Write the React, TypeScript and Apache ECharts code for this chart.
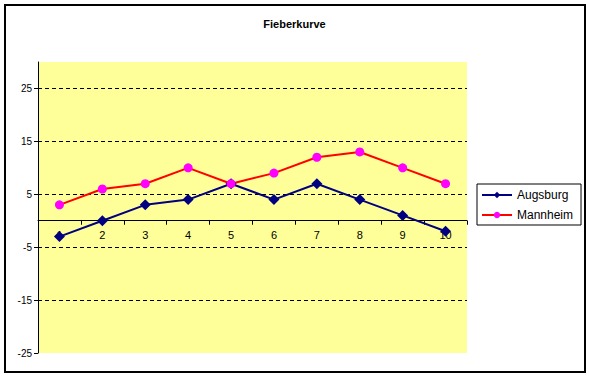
import React, { useEffect, useRef } from "react";
import * as echarts from "echarts";

const categories = ["1", "2", "3", "4", "5", "6", "7", "8", "9", "10"];
const augsburg = [-3, 0, 3, 4, 7, 4, 7, 4, 1, -2];
const mannheim = [3, 6, 7, 10, 7, 9, 12, 13, 10, 7];
const yMin = -25;
const yMax = 30;
const yInterval = 10;

export default function App() {
  const ref = useRef<HTMLDivElement>(null);
  useEffect(() => {
    if (!ref.current) return;
    const chart = echarts.init(ref.current, null, { renderer: "svg" });
    const font = "'Liberation Sans', Arial, sans-serif";
    const gridTop = 62;
    const gridBottom = 25;
    const gridHeight = 378 - gridTop - gridBottom;
    const zeroOffset = -(gridHeight * (0 - yMin)) / (yMax - yMin);
    chart.setOption({
      animation: false,
      backgroundColor: "#ffffff",
      textStyle: { fontFamily: font },
      title: {
        text: "Fieberkurve",
        left: "center",
        top: 13,
        textStyle: { fontSize: 11, fontWeight: "bold", color: "#000", fontFamily: font },
      },
      graphic: [
        {
          type: "rect",
          shape: { x: 5, y: 5, width: 580, height: 367 },
          style: { fill: "none", stroke: "#000", lineWidth: 2 },
          silent: true,
          z: 100,
        },
      ],
      legend: {
        orient: "vertical",
        left: 477,
        top: 184,
        borderColor: "#000",
        borderWidth: 1,
        padding: [5, 8, 4, 4],
        itemGap: 8,
        itemWidth: 30,
        itemHeight: 8,
        textStyle: { fontSize: 12, color: "#000", fontFamily: font },
        data: ["Augsburg", "Mannheim"],
      },
      grid: {
        left: 38,
        right: 122,
        top: gridTop,
        bottom: gridBottom,
        show: true,
        backgroundColor: "#FFFF99",
        borderWidth: 0,
      },
      xAxis: {
        type: "category",
        data: categories,
        position: "bottom",
        offset: zeroOffset,
        axisLine: { onZero: false, lineStyle: { color: "#000", width: 1 } },
        axisTick: { show: true, length: 4, lineStyle: { color: "#000" } },
        axisLabel: { fontSize: 11, color: "#000", margin: 9, fontFamily: font },
        splitLine: { show: false },
      },
      yAxis: {
        type: "value",
        min: yMin,
        max: yMax,
        interval: yInterval,
        axisLine: { show: true, lineStyle: { color: "#000", width: 1 } },
        axisTick: { show: true, length: 4, lineStyle: { color: "#000" } },
        axisLabel: { fontSize: 10, color: "#000", margin: 6, showMaxLabel: false, fontFamily: font },
        splitLine: {
          show: true,
          showMaxLine: false,
          showMinLine: false,
          lineStyle: { color: "#000", width: 1, type: [4, 3] },
        },
      },
      series: [
        {
          name: "Augsburg",
          type: "line",
          data: augsburg,
          symbol: "diamond",
          symbolSize: 11,
          lineStyle: { color: "#000080", width: 2 },
          itemStyle: { color: "#000080" },
        },
        {
          name: "Mannheim",
          type: "line",
          data: mannheim,
          symbol: "circle",
          symbolSize: 9,
          lineStyle: { color: "#FF0000", width: 2 },
          itemStyle: { color: "#FF00FF" },
        },
      ],
    });
    return () => chart.dispose();
  }, []);
  return (
    <div
      ref={ref}
      style={{ position: "fixed", left: 0, top: 0, width: 589, height: 378 }}
    />
  );
}
